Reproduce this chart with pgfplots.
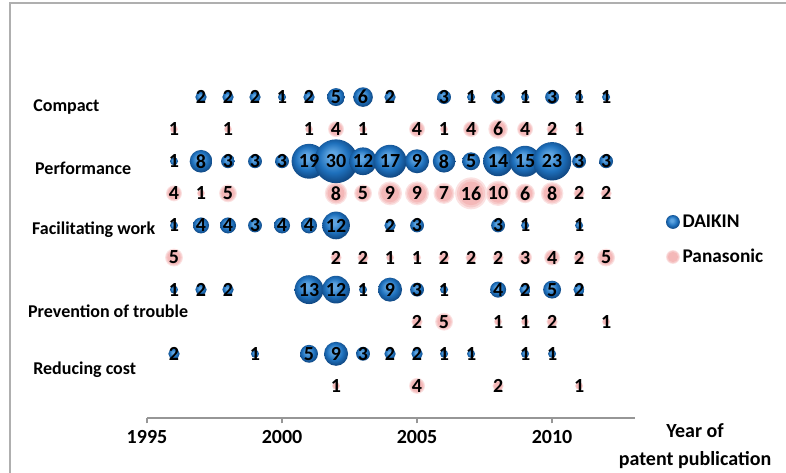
\documentclass[border=0pt]{standalone}
\usepackage{fontspec}
\setmainfont{Carlito}
\usepackage{pgfplots}
\pgfplotsset{compat=1.18}
\usepackage{pgfplotstable}
\usetikzlibrary{plotmarks}
\definecolor{bHi}{RGB}{95,165,225}
\definecolor{bMid}{RGB}{30,112,188}
\definecolor{bDark}{RGB}{16,70,128}
\definecolor{pinkC}{RGB}{244,184,184}
\definecolor{pinkM}{RGB}{247,203,203}
\definecolor{pinkE}{RGB}{251,226,226}
\definecolor{framegray}{RGB}{175,175,175}
\definecolor{axisgray}{RGB}{150,150,150}
\pgfdeclareradialshading{bluebubble}{\pgfpoint{-5bp}{7bp}}{color(0bp)=(bHi); color(5bp)=(bHi); color(17bp)=(bMid); color(27bp)=(bDark); color(40bp)=(bDark)}
\pgfdeclareplotmark{blueball}{\pgfpathcircle{\pgfpointorigin}{\pgfplotmarksize}\pgfshadepath{bluebubble}{0}\pgfusepath{}}
\pgfdeclareplotmark{pinkball}{%
  \pgfsetfillcolor{pinkE}\pgfpathcircle{\pgfpointorigin}{\pgfplotmarksize}\pgfusepath{fill}%
  \pgfsetfillcolor{pinkM}\pgfpathcircle{\pgfpointorigin}{0.88\pgfplotmarksize}\pgfusepath{fill}%
  \pgfsetfillcolor{pinkC}\pgfpathcircle{\pgfpointorigin}{0.74\pgfplotmarksize}\pgfusepath{fill}}

\pgfplotstableread{
year row v
1997 10 2
1998 10 2
1999 10 2
2000 10 1
2001 10 2
2002 10 5
2003 10 6
2004 10 2
2006 10 3
2007 10 1
2008 10 3
2009 10 1
2010 10 3
2011 10 1
2012 10 1
1996 8 1
1997 8 8
1998 8 3
1999 8 3
2000 8 3
2001 8 19
2002 8 30
2003 8 12
2004 8 17
2005 8 9
2006 8 8
2007 8 5
2008 8 14
2009 8 15
2010 8 23
2011 8 3
2012 8 3
1996 6 1
1997 6 4
1998 6 4
1999 6 3
2000 6 4
2001 6 4
2002 6 12
2004 6 2
2005 6 3
2008 6 3
2009 6 1
2011 6 1
1996 4 1
1997 4 2
1998 4 2
2001 4 13
2002 4 12
2003 4 1
2004 4 9
2005 4 3
2006 4 1
2008 4 4
2009 4 2
2010 4 5
2011 4 2
1996 2 2
1999 2 1
2001 2 5
2002 2 9
2003 2 3
2004 2 2
2005 2 2
2006 2 1
2007 2 1
2009 2 1
2010 2 1
}\daikintab

\pgfplotstableread{
year row v
1996 9 1
1998 9 1
2001 9 1
2002 9 4
2003 9 1
2005 9 4
2006 9 1
2007 9 4
2008 9 6
2009 9 4
2010 9 2
2011 9 1
1996 7 4
1997 7 1
1998 7 5
2002 7 8
2003 7 5
2004 7 9
2005 7 9
2006 7 7
2007 7 16
2008 7 10
2009 7 6
2010 7 8
2011 7 2
2012 7 2
1996 5 5
2002 5 2
2003 5 2
2004 5 1
2005 5 1
2006 5 2
2007 5 2
2008 5 2
2009 5 3
2010 5 4
2011 5 2
2012 5 5
2005 3 2
2006 3 5
2008 3 1
2009 3 1
2010 3 2
2012 3 1
2002 1 1
2005 1 4
2008 1 2
2011 1 1
}\panatab

\begin{document}
\begin{tikzpicture}[x=1pt,y=1pt]
\path[use as bounding box] (0,0) rectangle (589.5,354.75);
\draw[framegray, line width=1.2pt] (7.5,-20) -- (7.5,352.5) -- (620,352.5);
\begin{axis}[
  at={(110.25pt,41.25pt)}, anchor=south west,
  scale only axis, width=366pt, height=264.75pt,
  xmin=1995, xmax=2013.07, ymin=0, ymax=11,
  axis x line*=bottom, axis y line=none,
  x axis line style={color=axisgray, line width=0.9pt},
  xtick={1995,2000,2005,2010}, xtick align=outside, major tick length=4pt,
  xtick style={color=axisgray, line width=0.9pt},
  xticklabel style={font=\fontsize{15}{18}\selectfont\bfseries, yshift=-1.5pt},
  /pgf/number format/1000 sep={}, /pgf/number format/assume math mode=true,
  clip=false,
  legend style={at={(axis description cs:1.063,0.505)}, anchor=west, draw=none, fill=none,
    font=\fontsize{14.5}{17}\selectfont\bfseries, row sep=11pt, inner sep=0pt},
  legend cell align=left,
]
% bubbles: Panasonic first, DAIKIN on top
\addplot[scatter, only marks, mark=pinkball,
  scatter/use mapped color={draw=none},
  visualization depends on={3*sqrt(\thisrow{v}) \as \msize},
  scatter/@pre marker code/.append style={/tikz/mark size=\msize},
  point meta=\thisrow{v}, forget plot] table[x=year,y=row] {\panatab};
\addplot[scatter, only marks, mark=blueball,
  scatter/use mapped color={draw=none},
  visualization depends on={3*sqrt(\thisrow{v}) \as \msize},
  scatter/@pre marker code/.append style={/tikz/mark size=\msize},
  point meta=\thisrow{v}, forget plot] table[x=year,y=row] {\daikintab};
% labels on top
\addplot[draw=none, mark=none, point meta=\thisrow{v}, nodes near coords,
  nodes near coords align={center},
  every node near coord/.append style={font=\fontsize{15}{16}\selectfont\bfseries, text=black, anchor=center, inner sep=0pt},
  forget plot] table[x=year,y=row] {\panatab};
\addplot[draw=none, mark=none, point meta=\thisrow{v}, nodes near coords,
  nodes near coords align={center},
  every node near coord/.append style={font=\fontsize{15}{16}\selectfont\bfseries, text=black, anchor=center, inner sep=0pt},
  forget plot] table[x=year,y=row] {\daikintab};
\addlegendimage{legend image code/.code={\path (0cm,0cm) -- (0.3cm,0cm); \draw[only marks, mark=blueball, mark size=5.2pt] plot coordinates {(0.15cm,0cm)};}}
\addlegendentry{DAIKIN}
\addlegendimage{legend image code/.code={\path (0cm,0cm) -- (0.3cm,0cm); \draw[only marks, mark=pinkball, mark size=5.2pt] plot coordinates {(0.15cm,0cm)};}}
\addlegendentry{Panasonic}
% category labels
\begin{scope}[every node/.style={anchor=west, inner sep=0pt, font=\fontsize{13.5}{16}\selectfont\bfseries}]
\node at (axis cs:1990.78,9.69) {Compact};
\node at (axis cs:1990.85,7.79) {Performance};
\node at (axis cs:1990.74,5.86) {Facilitating work};
\node at (axis cs:1990.59,3.33) {Prevention of trouble};
\node at (axis cs:1990.78,1.50) {Reducing cost};
\end{scope}
\node[font=\fontsize{15}{21}\selectfont\bfseries, align=center] at (axis description cs:1.123,-0.079) {Year of\\patent publication};
\end{axis}
\end{tikzpicture}
\end{document}
